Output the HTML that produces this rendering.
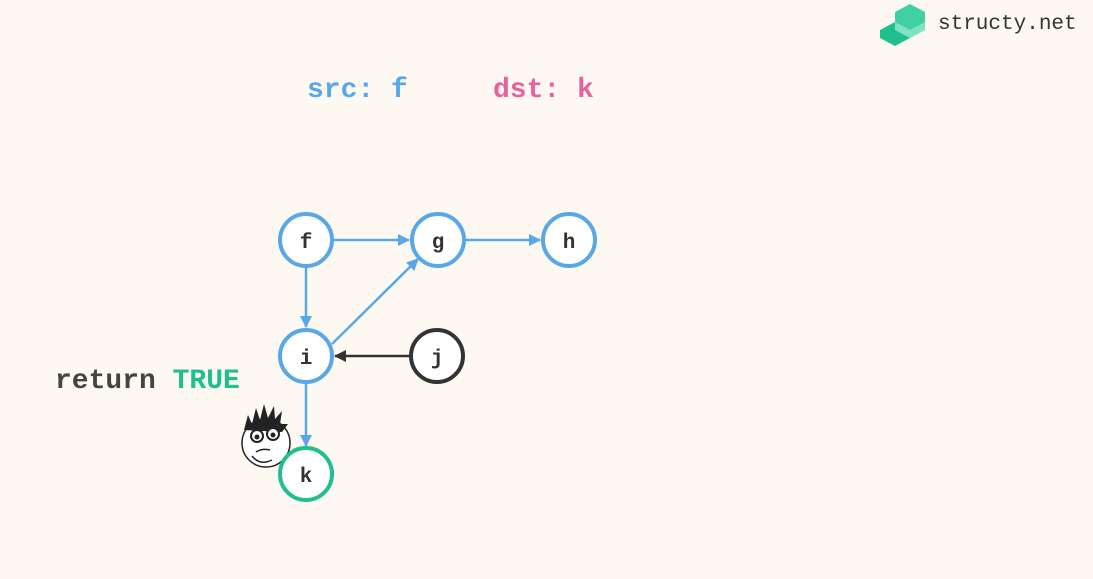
<!DOCTYPE html>
<html><head><meta charset="utf-8"><style>
html,body{margin:0;padding:0;background:#fdf8f2;}
svg{display:block}
</style></head><body>
<svg width="1093" height="579" viewBox="0 0 1093 579" xmlns="http://www.w3.org/2000/svg">
<rect width="1093" height="579" fill="#fdf8f2"/>
<defs>
<marker id="ab" markerWidth="12" markerHeight="12" refX="11" refY="6" orient="auto" markerUnits="userSpaceOnUse"><path d="M0,0 L12,6 L0,12 z" fill="#58a7e9"/></marker>
<marker id="ad" markerWidth="12" markerHeight="12" refX="11" refY="6" orient="auto" markerUnits="userSpaceOnUse"><path d="M0,0 L12,6 L0,12 z" fill="#333"/></marker>
</defs>
<g>
<polygon points="880,30 895,22 910,30 910,38 895,46 880,38" fill="#1fbf8f"/>
<polygon points="895,12 910,4 925,12 925,30 910,38 895,30" fill="#3fd0a3"/>
<polygon points="895,22 910,30 910,38 895,30" fill="#7fe3c3"/>
<polygon points="910,30 925,22 925,30 910,38" fill="#7fe3c3"/>
</g>
<text x="938" y="29" font-family="Liberation Mono, monospace" font-size="21" fill="#333">structy.net</text>
<text x="307" y="97" font-family="Liberation Mono, monospace" font-weight="bold" font-size="28" fill="#58a7e9">src: f</text>
<text x="493" y="97" font-family="Liberation Mono, monospace" font-weight="bold" font-size="28" fill="#e9609f">dst: k</text>
<text x="55" y="388" font-family="Liberation Mono, monospace" font-weight="bold" font-size="28" fill="#444">return <tspan fill="#1fbf8f">TRUE</tspan></text>
<g stroke="#58a7e9" stroke-width="2.5" fill="none">
<line x1="333" y1="240" x2="409" y2="240" marker-end="url(#ab)"/>
<line x1="465" y1="240" x2="540" y2="240" marker-end="url(#ab)"/>
<line x1="306" y1="267" x2="306" y2="327" marker-end="url(#ab)"/>
<line x1="332" y1="344" x2="418" y2="259" marker-end="url(#ab)"/>
<line x1="306" y1="383" x2="306" y2="446" marker-end="url(#ab)"/>
</g>
<line x1="410" y1="356" x2="335" y2="356" stroke="#333" stroke-width="2.5" marker-end="url(#ad)"/>
<g>
<circle cx="266" cy="443" r="24" fill="#fff" stroke="#222" stroke-width="1.5"/>
<path d="M244,430 L248,415 L252,424 L256,408 L260,420 L264,404 L268,418 L274,406 L275,419 L282,411 L280,424 L288,424 L282,432 Z" fill="#222"/>
<circle cx="257" cy="436" r="6" fill="#fff" stroke="#222" stroke-width="2"/>
<circle cx="273" cy="434" r="6" fill="#fff" stroke="#222" stroke-width="2"/>
<circle cx="257" cy="437" r="2.5" fill="#222"/><circle cx="273" cy="435" r="2.5" fill="#222"/>
<path d="M256,452 q6,-4 14,-2 M252,456 q8,10 20,4" stroke="#222" stroke-width="1.5" fill="none"/>
</g>
<g stroke-width="4" fill="#fff">
<circle cx="306" cy="240" r="26" stroke="#58a7e9"/>
<circle cx="438" cy="240" r="26" stroke="#58a7e9"/>
<circle cx="569" cy="240" r="26" stroke="#58a7e9"/>
<circle cx="306" cy="356" r="26" stroke="#58a7e9"/>
<circle cx="437" cy="356" r="26" stroke="#333"/>
<circle cx="306" cy="474" r="26" stroke="#1fbf8f"/>
</g>
<g font-family="Liberation Mono, monospace" font-weight="bold" font-size="21" fill="#333" text-anchor="middle">
<text x="306" y="248">f</text>
<text x="438" y="248">g</text>
<text x="569" y="248">h</text>
<text x="306" y="364">i</text>
<text x="437" y="364">j</text>
<text x="306" y="482">k</text>
</g>
</svg>
</body></html>
